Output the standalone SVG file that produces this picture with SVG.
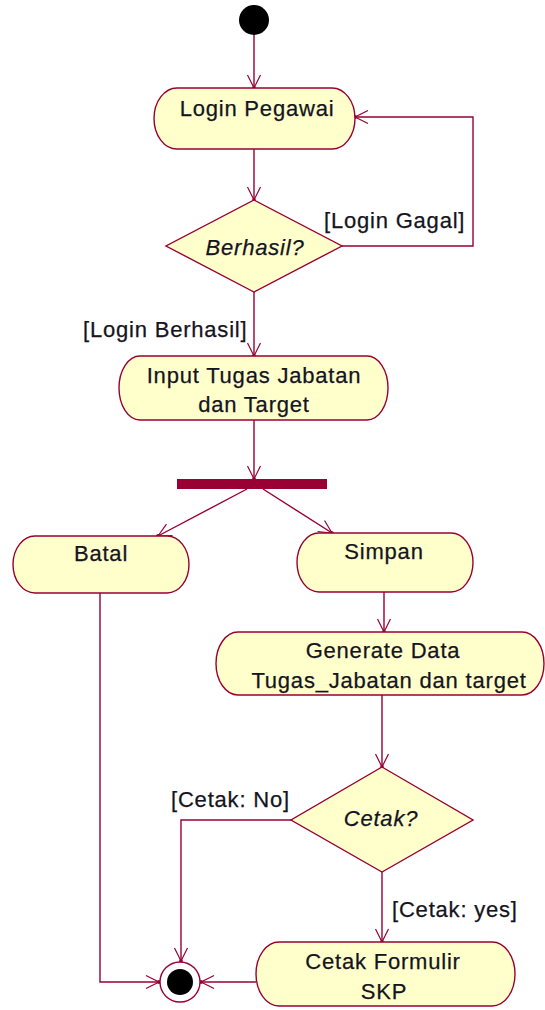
<svg xmlns="http://www.w3.org/2000/svg" width="545" height="1010" viewBox="0 0 545 1010">
  <style>
    .act { fill: #FFFFCC; stroke: #990033; stroke-width: 1.4; }
    .dec { fill: #FFFFCC; stroke: #990033; stroke-width: 1.4; }
    .lbl { font-family: "Liberation Sans", Arial, sans-serif; font-size: 22px; letter-spacing: 0.8px; fill: #141420; stroke: #141420; stroke-width: 0.25; }
    .mid { text-anchor: middle; }
    .it { font-style: italic; }
    .edge { fill: none; stroke: #990033; stroke-width: 1.4; marker-end: url(#arr); }
  </style>
  <defs>
    <marker id="arr" markerUnits="userSpaceOnUse" viewBox="-15 -8 17 16" markerWidth="17" markerHeight="16" refX="0" refY="0" orient="auto">
      <path d="M-13,-6.5 L0,0 L-13,6.5" fill="none" stroke="#990033" stroke-width="1.2"/>
      <circle r="1.9" fill="#990033"/>
    </marker>
  </defs>

  <rect width="545" height="1010" fill="#FFFFFF"/>

  <!-- connectors -->
  <g id="connectors">
    <path class="edge" d="M254,35 V88"/>
    <path class="edge" d="M254,149 V200"/>
    <path class="edge" d="M342,246 H473 V117 H355"/>
    <path class="edge" d="M254,292 V356"/>
    <path class="edge" d="M254,420 V479"/>
    <path class="edge" d="M247,489 L158,536"/>
    <path class="edge" d="M263,489 L332,533"/>
    <path class="edge" d="M384,592 V632"/>
    <path class="edge" d="M382,695 V767"/>
    <path class="edge" d="M291,820 H181 V961"/>
    <path class="edge" d="M382,872 V942"/>
    <path class="edge" d="M100,593 V982 H159"/>
    <path class="edge" d="M256,982 H201"/>
    <text class="lbl" x="324" y="228">[Login Gagal]</text>
    <text class="lbl" x="83" y="337">[Login Berhasil]</text>
    <text class="lbl" x="171" y="807">[Cetak: No]</text>
    <text class="lbl" x="392" y="917">[Cetak: yes]</text>
  </g>

  <!-- initial state -->
  <g id="start">
    <circle cx="254" cy="20" r="15" fill="#000000"/>
  </g>

  <g id="login-pegawai">
    <path class="act" d="M177,88 H332 A23,30.5 0 0 1 332,149 H177 A23,30.5 0 0 1 177,88 Z"/>
    <text class="lbl mid" x="257" y="116">Login Pegawai</text>
  </g>

  <g id="berhasil">
    <path class="dec" d="M254,200 L342,246 L254,292 L166,246 Z"/>
    <text class="lbl mid it" x="255" y="255">Berhasil?</text>
  </g>

  <g id="input-tugas">
    <path class="act" d="M140,356 H367 A21,32 0 0 1 367,420 H140 A21,32 0 0 1 140,356 Z"/>
    <text class="lbl mid" x="254" y="383">Input Tugas Jabatan</text>
    <text class="lbl mid" x="254" y="412">dan Target</text>
  </g>

  <g id="fork">
    <rect x="177" y="479" width="150" height="10" fill="#990033"/>
  </g>

  <g id="batal">
    <path class="act" d="M35,536 H167 A22,28.5 0 0 1 167,593 H35 A22,28.5 0 0 1 35,536 Z"/>
    <text class="lbl mid" x="101" y="561">Batal</text>
  </g>

  <g id="simpan">
    <path class="act" d="M319,533 H451 A22,29.5 0 0 1 451,592 H319 A22,29.5 0 0 1 319,533 Z"/>
    <text class="lbl mid" x="384" y="559">Simpan</text>
  </g>

  <g id="generate-data">
    <path class="act" d="M238,632 H522 A22,31.5 0 0 1 522,695 H238 A22,31.5 0 0 1 238,632 Z"/>
    <text class="lbl mid" x="383" y="658">Generate Data</text>
    <text class="lbl mid" x="389" y="688">Tugas_Jabatan dan target</text>
  </g>

  <g id="cetak">
    <path class="dec" d="M382,767 L473,820 L382,872 L291,820 Z"/>
    <text class="lbl mid it" x="381" y="826">Cetak?</text>
  </g>

  <g id="cetak-formulir">
    <path class="act" d="M279,942 H492 A23,32 0 0 1 492,1006 H279 A23,32 0 0 1 279,942 Z"/>
    <text class="lbl mid" x="383" y="969">Cetak Formulir</text>
    <text class="lbl mid" x="384" y="999">SKP</text>
  </g>

  <!-- final state -->
  <g id="end">
    <circle cx="180" cy="982" r="20" fill="#FFFFFF" stroke="#990033" stroke-width="1.4"/>
    <circle cx="180" cy="982" r="13" fill="#000000"/>
  </g>
</svg>
